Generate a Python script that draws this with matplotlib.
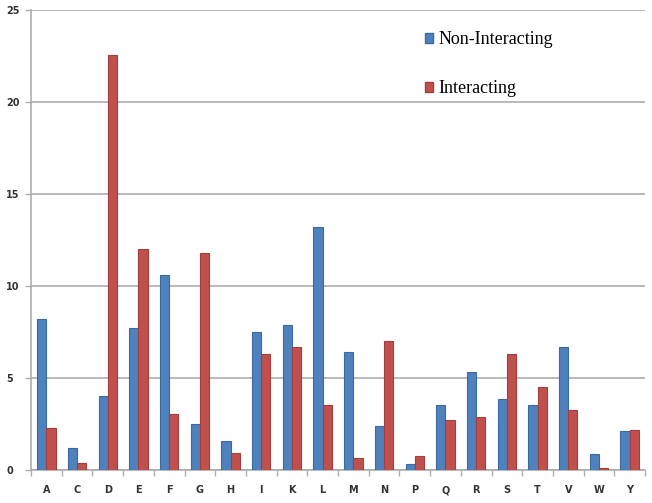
import matplotlib
matplotlib.use("Agg")
import matplotlib.pyplot as plt
import numpy as np
from matplotlib.patches import Patch

categories = ["A", "C", "D", "E", "F", "G", "H", "I", "K", "L",
              "M", "N", "P", "Q", "R", "S", "T", "V", "W", "Y"]
non_interacting = [8.2, 1.2, 4.0, 7.7, 10.6, 2.5, 1.6, 7.5, 7.9, 13.2,
                   6.4, 2.4, 0.3, 3.55, 5.35, 3.85, 3.55, 6.7, 0.85, 2.1]
interacting = [2.3, 0.4, 22.55, 12.0, 3.05, 11.8, 0.9, 6.3, 6.7, 3.55,
               0.65, 7.0, 0.75, 2.7, 2.9, 6.3, 4.5, 3.25, 0.1, 2.15]
yticks = [0, 5, 10, 15, 20, 25]
series_names = ["Non-Interacting", "Interacting"]

blue = "#4F81BD"
red = "#C0504D"
blue_edge = "#3A6AA3"
red_edge = "#A33E3B"

fig = plt.figure(figsize=(6.52, 5.03), dpi=100)
ax = fig.add_axes([31/652, 33/503, (645-31)/652, (493-33)/503])

x = np.arange(len(categories))
w = 0.3
ax.bar(x - w/2, non_interacting, width=w, color=blue, edgecolor=blue_edge, linewidth=0.8, zorder=3)
ax.bar(x + w/2, interacting, width=w, color=red, edgecolor=red_edge, linewidth=0.8, zorder=3)

ax.set_xlim(-0.5, len(categories) - 0.5)
ax.set_ylim(0, 25)
ax.set_yticks(yticks)
ax.set_yticklabels([str(v) for v in yticks])
ax.grid(axis="y", color="#ADADAD", linewidth=1.2, zorder=0)

for s in ["top", "right"]:
    ax.spines[s].set_visible(False)
for s in ["left", "bottom"]:
    ax.spines[s].set_color("#ADADAD")
    ax.spines[s].set_linewidth(1.2)

ax.set_xticks(x)
ax.set_xticklabels(categories)
ax.set_xticks(np.arange(-0.5, len(categories), 1.0), minor=True)
ax.tick_params(axis="x", which="major", length=0, pad=11, labelsize=7, labelcolor="#333333")
ax.tick_params(axis="x", which="minor", length=4, color="#ADADAD", width=1)
ax.tick_params(axis="y", length=4, color="#ADADAD", width=1, labelsize=7, labelcolor="#333333", pad=14)
for lab in ax.get_yticklabels():
    lab.set_horizontalalignment("left")
    lab.set_fontweight("bold")
for lab in ax.get_xticklabels():
    lab.set_fontweight("bold")

handles = [Patch(facecolor=blue, edgecolor=blue_edge), Patch(facecolor=red, edgecolor=red_edge)]
fig.legend(handles, series_names, loc="upper left",
           bbox_to_anchor=(409/652, 1 - 15/503), frameon=False,
           prop={"family": "Liberation Serif", "size": 13},
           handlelength=0.45, handleheight=0.45, handletextpad=0.3,
           labelspacing=1.78)

fig.savefig("out.png", dpi=100)
